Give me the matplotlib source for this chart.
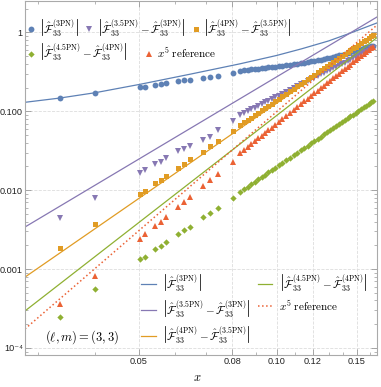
import numpy as np
import matplotlib
matplotlib.use('Agg')
import matplotlib.pyplot as plt
from matplotlib.ticker import FixedLocator, FixedFormatter, NullFormatter, LogLocator

plt.rcParams['mathtext.fontset'] = 'cm'
plt.rcParams['font.family'] = ['Liberation Sans', 'DejaVu Sans']

# ---- data ----
x_sparse = [0.0335, 0.0401, 0.0503, 0.0515, 0.0543, 0.0558, 0.0573, 0.0609, 0.0628,
            0.0646, 0.0691, 0.0715, 0.0743, 0.0804]
x_dense = [0.0832, 0.0848, 0.0864, 0.0880, 0.0896, 0.0912, 0.0928, 0.0944, 0.0960, 0.0976,
           0.0992, 0.1010, 0.1030, 0.1050, 0.1070, 0.1090, 0.1110, 0.1130, 0.1150, 0.1170,
           0.1190, 0.1210, 0.1230, 0.1250, 0.1270, 0.1290, 0.1310, 0.1330, 0.1350, 0.1370,
           0.1390, 0.1410, 0.1430, 0.1450, 0.1470, 0.1490, 0.1510, 0.1530, 0.1550, 0.1570,
           0.1590, 0.1610, 0.1625]

f3_sparse = [0.1464, 0.171, 0.2055, 0.2055, 0.218, 0.222, 0.229, 0.2405, 0.248,
             0.250, 0.265, 0.275, 0.281, 0.304]
f3_dense = [0.325, 0.330, 0.334, 0.339, 0.343, 0.348, 0.352, 0.356, 0.361, 0.365,
            0.369, 0.374, 0.379, 0.385, 0.390, 0.395, 0.401, 0.406, 0.412, 0.420,
            0.428, 0.436, 0.445, 0.453, 0.461, 0.471, 0.480, 0.490, 0.500, 0.511,
            0.522, 0.535, 0.547, 0.560, 0.582, 0.596, 0.610, 0.622, 0.635, 0.649,
            0.661, 0.673, 0.682]

d35_sparse = [0.00440, 0.00796, 0.01667, 0.01788, 0.02132, 0.0230, 0.02577, 0.0311, 0.0333,
              0.0367, 0.0433, 0.0477, 0.058, 0.0755]
d35_dense = [0.0899, 0.0951, 0.1004, 0.1059, 0.1115, 0.1174, 0.1235, 0.1298, 0.1363, 0.1429,
             0.1498, 0.1578, 0.1670, 0.1767, 0.1866, 0.1969, 0.2075, 0.2186, 0.2300, 0.2417,
             0.2540, 0.2666, 0.2796, 0.2929, 0.3067, 0.3209, 0.3356, 0.3508, 0.3661, 0.3820,
             0.3985, 0.4153, 0.4326, 0.4505, 0.4688, 0.4875, 0.5068, 0.5263, 0.5464, 0.5672,
             0.5884, 0.6100, 0.6269]

d4_sparse = [0.00183, 0.00370, 0.00895, 0.00977, 0.01224, 0.01347, 0.01528, 0.01929, 0.0215,
             0.0246, 0.0303, 0.0364, 0.0421, 0.0569]
d4_dense = [0.0668, 0.0721, 0.0775, 0.0833, 0.0894, 0.0959, 0.1026, 0.1098, 0.1173, 0.1252,
            0.1334, 0.1432, 0.1547, 0.1668, 0.1797, 0.1932, 0.2075, 0.2227, 0.2385, 0.2553,
            0.2727, 0.2912, 0.3107, 0.3310, 0.3523, 0.3747, 0.3981, 0.4224, 0.4477, 0.4745,
            0.5023, 0.5314, 0.5616, 0.5933, 0.6258, 0.6602, 0.6958, 0.7323, 0.7707, 0.8108,
            0.8522, 0.8948, 0.9286]

d45_sparse = [2.49e-4, 5.54e-4, 0.00133, 0.00144, 0.00178, 0.00196, 0.00218, 0.00279, 0.00313,
              0.00344, 0.00453, 0.00518, 0.00600, 0.00803]
d45_dense = [0.00957, 0.01032, 0.01111, 0.01195, 0.01283, 0.01376, 0.01473, 0.01578, 0.01685, 0.01798,
             0.01918, 0.02059, 0.02225, 0.02401, 0.02587, 0.02781, 0.02988, 0.03209, 0.03439, 0.03681,
             0.03934, 0.04203, 0.04483, 0.04778, 0.05087, 0.05413, 0.05753, 0.06109, 0.06476, 0.06866,
             0.07269, 0.07689, 0.08128, 0.08592, 0.09066, 0.09565, 0.1009, 0.1062, 0.1117, 0.1176,
             0.1237, 0.1299, 0.1348]

x5_sparse = [3.57e-4, 8.24e-4, 0.00240, 0.00276, 0.00352, 0.00398, 0.00461, 0.00618, 0.00715,
             0.00827, 0.0114, 0.01347, 0.0159, 0.0230]
x5_dense = [0.0296, 0.0324, 0.0353, 0.0385, 0.0418, 0.0454, 0.0492, 0.0533, 0.0576, 0.0622,
            0.0671, 0.0729, 0.0798, 0.0873, 0.0953, 0.1038, 0.1129, 0.1228, 0.1331, 0.1443,
            0.1560, 0.1686, 0.1819, 0.1961, 0.2111, 0.2269, 0.2438, 0.2616, 0.2802, 0.2999,
            0.3208, 0.3428, 0.3659, 0.3904, 0.4159, 0.4429, 0.4714, 0.5007, 0.5318, 0.5645,
            0.5987, 0.6342, 0.6626]

# analytic curves (sampled from the figure)
curve3_x = [0.02815, 0.0335, 0.0401, 0.0503, 0.0650, 0.0832, 0.100, 0.1135, 0.130, 0.1436, 0.1659]
curve3_y = [0.130, 0.147, 0.172, 0.220, 0.297, 0.400, 0.51, 0.62, 0.78, 0.96, 1.32]
line_x = [0.02815, 0.1659]
line35_y = [0.00341, 1.57]
line4_y = [7.9e-4, 0.96]
line45_y = [2.94e-4, 0.861]
ref5_y = [1.74e-4, 1.24]

lab3 = r'$\left|\hat{\mathcal{F}}^{(3\mathrm{PN})}_{33}\right|$'
lab35 = r'$\left|\hat{\mathcal{F}}^{(3.5\mathrm{PN})}_{33}-\hat{\mathcal{F}}^{(3\mathrm{PN})}_{33}\right|$'
lab4 = r'$\left|\hat{\mathcal{F}}^{(4\mathrm{PN})}_{33}-\hat{\mathcal{F}}^{(3.5\mathrm{PN})}_{33}\right|$'
lab45 = r'$\left|\hat{\mathcal{F}}^{(4.5\mathrm{PN})}_{33}-\hat{\mathcal{F}}^{(4\mathrm{PN})}_{33}\right|$'
labref = r'$x^5\ \mathrm{reference}$'

c_blue = '#5E81B5'
c_purple = '#8778B3'
c_orange = '#E19C24'
c_green = '#8FB032'
c_red = '#EB6235'

x_all = x_sparse + x_dense

fig = plt.figure(figsize=(3.81, 3.87), dpi=100)
ax = fig.add_axes([0.0656, 0.0827, 0.924, 0.915])
ax.set_xscale('log')
ax.set_yscale('log')

p1, = ax.plot(x_all, f3_sparse + f3_dense, 'o', color=c_blue, ms=4.2, mew=0)
p2, = ax.plot(x_all, d35_sparse + d35_dense, 'v', color=c_purple, ms=4.2, mew=0)
p3, = ax.plot(x_all, d4_sparse + d4_dense, 's', color=c_orange, ms=3.6, mew=0)
p4, = ax.plot(x_all, d45_sparse + d45_dense, 'D', color=c_green, ms=3.2, mew=0)
p5, = ax.plot(x_all, x5_sparse + x5_dense, '^', color=c_red, ms=4.2, mew=0)

l1, = ax.plot(curve3_x, curve3_y, '-', color=c_blue, lw=0.9)
l2, = ax.plot(line_x, line35_y, '-', color=c_purple, lw=0.9)
l3, = ax.plot(line_x, line4_y, '-', color=c_orange, lw=0.9)
l4, = ax.plot(line_x, line45_y, '-', color=c_green, lw=0.9)
l5, = ax.plot(line_x, ref5_y, ':', color=c_red, lw=1.1)

ax.set_xlim(0.02815, 0.1659)
ax.set_ylim(8.13e-5, 2.51)

# ticks
ax.xaxis.set_major_locator(FixedLocator([0.05, 0.08, 0.10, 0.12, 0.15]))
ax.xaxis.set_major_formatter(FixedFormatter(['0.05', '0.08', '0.10', '0.12', '0.15']))
ax.xaxis.set_minor_locator(FixedLocator([0.03, 0.04, 0.06, 0.07, 0.09, 0.11, 0.13, 0.14, 0.16]))
ax.xaxis.set_minor_formatter(NullFormatter())
ax.yaxis.set_major_locator(FixedLocator([1e-4, 1e-3, 1e-2, 1e-1, 1]))
ax.yaxis.set_major_formatter(FixedFormatter(['10\u207b\u2074', '0.001', '0.010', '0.100', '1']))
ax.yaxis.set_minor_locator(LogLocator(base=10, subs=np.arange(2, 10)))
ax.yaxis.set_minor_formatter(NullFormatter())
ax.tick_params(which='both', direction='in', top=True, right=True, color='#999999',
               labelsize=6.6, labelcolor='#222222', pad=1.5)
ax.tick_params(which='major', length=4, width=0.6)
ax.tick_params(which='minor', length=2, width=0.5)
for s in ax.spines.values():
    s.set_color('#aaaaaa')
    s.set_linewidth(0.8)
ax.grid(which='major', linestyle='--', color='#dddddd', linewidth=0.6)

# legends
leg1 = ax.legend([p1, p2, p3], [lab3, lab35, lab4], ncol=3, loc='center left',
                 bbox_to_anchor=(0.005, 0.926), frameon=False, fontsize=8,
                 handlelength=0.8, handletextpad=0.3, columnspacing=0.5,
                 borderpad=0, borderaxespad=0)
ax.add_artist(leg1)
leg2 = ax.legend([p4, p5], [lab45, labref], ncol=2, loc='center left',
                 bbox_to_anchor=(0.005, 0.856), frameon=False, fontsize=8,
                 handlelength=0.8, handletextpad=0.3, columnspacing=1.5,
                 borderpad=0, borderaxespad=0)
ax.add_artist(leg2)
ax.legend([l1, l2, l3, l4, l5], [lab3, lab35, lab4, lab45, labref], ncol=2,
          loc='upper left', bbox_to_anchor=(0.33, 0.235), frameon=False, fontsize=8,
          handlelength=1.3, handletextpad=0.6, columnspacing=0.6, labelspacing=0.45,
          borderpad=0, borderaxespad=0)

ax.text(0.057, 0.051, r'$(\ell,m)=(3,3)$', transform=ax.transAxes, fontsize=9,
        ha='left', va='center')
fig.text(197 / 381, 1 - 378 / 387, r'$x$', fontsize=9, ha='center', va='center')

plt.savefig('out.png', dpi=100)
